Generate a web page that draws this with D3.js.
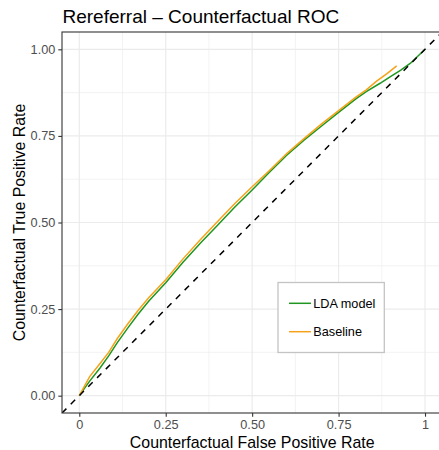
<!DOCTYPE html>
<html>
<head>
<meta charset="utf-8">
<script src="https://cdn.jsdelivr.net/npm/d3@7"></script>
<style>
  body { margin: 0; background: #fff; }
  svg { display: block; font-family: "Liberation Sans", Arial, sans-serif; }
</style>
</head>
<body>
<svg id="chart"></svg>
<script>
// values
const ldaFpr = [0, 0.03, 0.06, 0.085, 0.11, 0.14, 0.17, 0.2, 0.25, 0.3, 0.35, 0.4, 0.45, 0.5,
  0.55, 0.6, 0.65, 0.7, 0.75, 0.8, 0.83, 0.87, 0.9, 0.93, 0.958, 1.0];
const ldaTpr = [0, 0.042, 0.08, 0.115, 0.153, 0.195, 0.235, 0.272, 0.326, 0.385, 0.44, 0.492, 0.545, 0.594,
  0.645, 0.694, 0.738, 0.778, 0.818, 0.857, 0.878, 0.902, 0.921, 0.94, 0.96, 1.0];
const baseFpr = [0, 0.03, 0.06, 0.085, 0.11, 0.14, 0.17, 0.2, 0.25, 0.3, 0.35, 0.4, 0.45, 0.5,
  0.55, 0.6, 0.65, 0.7, 0.75, 0.8, 0.83, 0.86, 0.89, 0.918];
const baseTpr = [0, 0.055, 0.093, 0.125, 0.165, 0.207, 0.246, 0.282, 0.335, 0.395, 0.45, 0.503, 0.555, 0.603,
  0.65, 0.699, 0.742, 0.784, 0.823, 0.862, 0.883, 0.908, 0.93, 0.952];
const seriesNames = ["LDA model", "Baseline"];
const seriesColors = ["#1f961f", "#f5a31a"];
const xTicks = [0, 0.25, 0.5, 0.75, 1];
const xTickLabels = ["0", "0.25", "0.50", "0.75", "1"];
const yTicks = [0, 0.25, 0.5, 0.75, 1];
const yTickLabels = ["0.00", "0.25", "0.50", "0.75", "1.00"];
const minorTicks = [0.125, 0.375, 0.625, 0.875];

const width = 439, height = 450;
const panel = { left: 62, right: 442.3, top: 32, bottom: 413 };

const svg = d3.select("#chart").attr("width", width).attr("height", height);

const x = d3.scaleLinear().domain([-0.05, 1.05]).range([panel.left, panel.right]);
const y = d3.scaleLinear().domain([-0.05, 1.05]).range([panel.bottom, panel.top]);

svg.append("defs").append("clipPath").attr("id", "clip")
  .append("rect")
  .attr("x", panel.left).attr("y", panel.top)
  .attr("width", panel.right - panel.left).attr("height", panel.bottom - panel.top);

// grid
const grid = svg.append("g");
minorTicks.forEach(t => {
  grid.append("line").attr("x1", x(t)).attr("x2", x(t)).attr("y1", panel.top).attr("y2", panel.bottom)
    .attr("stroke", "#ebebeb").attr("stroke-width", 0.6);
  grid.append("line").attr("y1", y(t)).attr("y2", y(t)).attr("x1", panel.left).attr("x2", panel.right)
    .attr("stroke", "#ebebeb").attr("stroke-width", 0.6);
});
xTicks.forEach(t => {
  grid.append("line").attr("x1", x(t)).attr("x2", x(t)).attr("y1", panel.top).attr("y2", panel.bottom)
    .attr("stroke", "#ebebeb").attr("stroke-width", 1.15);
});
yTicks.forEach(t => {
  grid.append("line").attr("y1", y(t)).attr("y2", y(t)).attr("x1", panel.left).attr("x2", panel.right)
    .attr("stroke", "#ebebeb").attr("stroke-width", 1.15);
});

// curves
const line = d3.line().x(d => x(d[0])).y(d => y(d[1]));
const plot = svg.append("g").attr("clip-path", "url(#clip)");
const series = [d3.zip(ldaFpr, ldaTpr), d3.zip(baseFpr, baseTpr)];
series.forEach((s, i) => {
  plot.append("path").datum(s).attr("d", line)
    .attr("fill", "none").attr("stroke", seriesColors[i]).attr("stroke-width", 1.5);
});

// chance line
plot.append("path").datum([[-0.05, -0.05], [1.05, 1.05]]).attr("d", line)
  .attr("fill", "none").attr("stroke", "#000").attr("stroke-width", 1.5)
  .attr("stroke-dasharray", "6.2,6.2");

// panel border
svg.append("rect")
  .attr("x", panel.left).attr("y", panel.top)
  .attr("width", panel.right - panel.left).attr("height", panel.bottom - panel.top)
  .attr("fill", "none").attr("stroke", "#333").attr("stroke-width", 1.1);

// axes
const xAxis = d3.axisBottom(x).tickValues(xTicks).tickSize(3.7).tickPadding(3)
  .tickFormat((d, i) => xTickLabels[i]);
const yAxis = d3.axisLeft(y).tickValues(yTicks).tickSize(3.7).tickPadding(3)
  .tickFormat((d, i) => yTickLabels[i]);

const gx = svg.append("g").attr("transform", `translate(0,${panel.bottom})`).call(xAxis);
const gy = svg.append("g").attr("transform", `translate(${panel.left},0)`).call(yAxis);
[gx, gy].forEach(g => {
  g.select(".domain").remove();
  g.selectAll(".tick line").attr("stroke", "#333").attr("stroke-width", 1.1);
  g.selectAll(".tick text").attr("fill", "#4d4d4d").style("font-size", "12.7px")
    .style("font-family", "'Liberation Sans', Arial, sans-serif");
});

// titles
svg.append("text").attr("x", 62.5).attr("y", 22.7)
  .style("font-size", "19px").attr("fill", "#000")
  .text("Rereferral \u2013 Counterfactual ROC");

svg.append("text").attr("x", (panel.left + panel.right) / 2).attr("y", 448.3)
  .attr("text-anchor", "middle").style("font-size", "15.9px").attr("fill", "#000")
  .text("Counterfactual False Positive Rate");

svg.append("text").attr("transform", `translate(25,${(panel.top + panel.bottom) / 2}) rotate(-90)`)
  .attr("text-anchor", "middle").style("font-size", "15.9px").attr("fill", "#000")
  .text("Counterfactual True Positive Rate");

// legend
const legend = svg.append("g");
legend.append("rect").attr("x", 278).attr("y", 282.5).attr("width", 106.3).attr("height", 70)
  .attr("fill", "#fff").attr("stroke", "#c4c4c4").attr("stroke-width", 1.3);
seriesNames.forEach((name, i) => {
  const ly = 303.3 + i * 28.4;
  legend.append("line").attr("x1", 289).attr("x2", 311).attr("y1", ly).attr("y2", ly)
    .attr("stroke", seriesColors[i]).attr("stroke-width", 1.5);
  legend.append("text").attr("x", 313.3).attr("y", ly).attr("dy", "0.35em")
    .style("font-size", "12.7px").attr("fill", "#000").text(name);
});
</script>
</body>
</html>
